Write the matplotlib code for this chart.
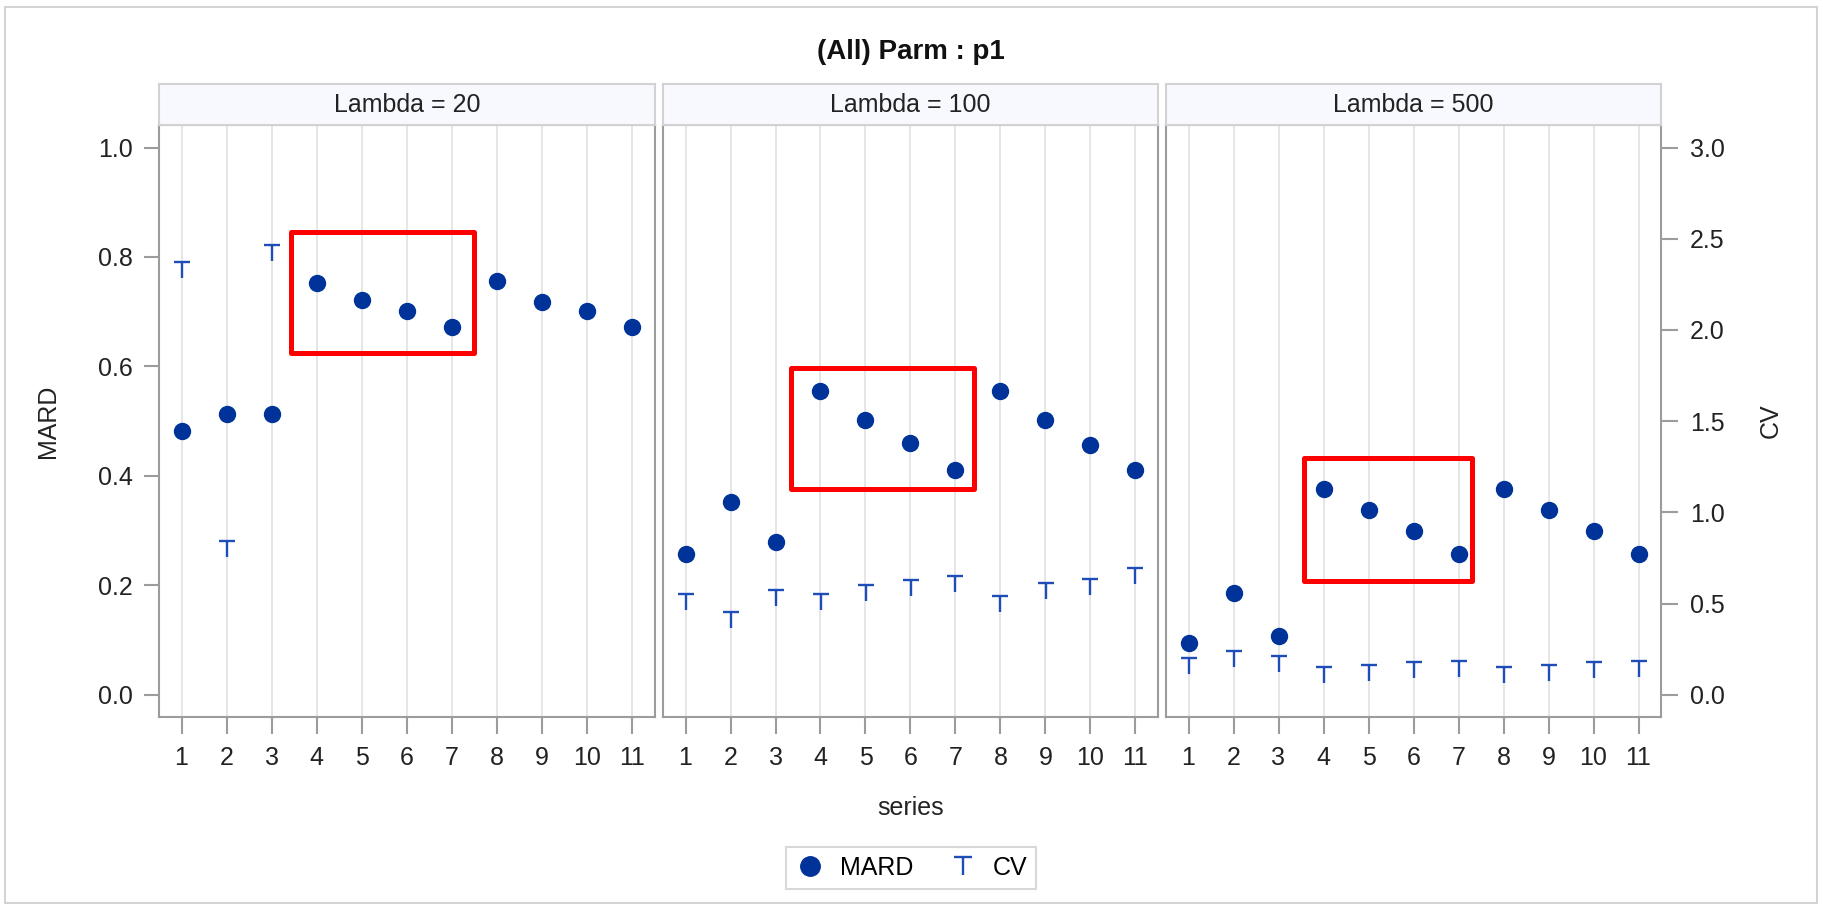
import numpy as np
import matplotlib
matplotlib.use("Agg")
import matplotlib.pyplot as plt
from matplotlib.path import Path
from matplotlib.patches import Rectangle
from matplotlib.lines import Line2D

plt.rcParams['font.family'] = ['Liberation Sans', 'DejaVu Sans']

# data
series = list(range(1, 12))
lambdas = [20, 100, 500]
mard_20 = [0.482, 0.514, 0.514, 0.752, 0.722, 0.701, 0.673, 0.756, 0.718, 0.701, 0.673]
mard_100 = [0.258, 0.353, 0.279, 0.556, 0.503, 0.461, 0.411, 0.556, 0.503, 0.456, 0.411]
mard_500 = [0.095, 0.187, 0.107, 0.376, 0.337, 0.299, 0.258, 0.376, 0.337, 0.299, 0.258]
cv_20 = [2.33, 0.80, 2.42, np.nan, np.nan, np.nan, np.nan, np.nan, np.nan, np.nan, np.nan]
cv_100 = [0.51, 0.41, 0.53, 0.51, 0.56, 0.585, 0.61, 0.50, 0.57, 0.59, 0.65]
cv_500 = [0.16, 0.195, 0.17, 0.11, 0.12, 0.135, 0.145, 0.11, 0.12, 0.135, 0.145]

# highlighted regions (x0, x1, y0, y1) in data units
boxes = [(3.43, 7.48, 0.624, 0.845),
         (3.34, 7.41, 0.376, 0.597),
         (3.56, 7.29, 0.208, 0.433)]

mard_all = [mard_20, mard_100, mard_500]
cv_all = [cv_20, cv_100, cv_500]

W, H = 1823, 910
fig = plt.figure(figsize=(W / 100, H / 100), dpi=100)

def fx(px):
    return px / W

def fy(py):
    return 1 - py / H

tack = Path([(-1, 1), (1, 1), (0, 1), (0, -1)],
            [Path.MOVETO, Path.LINETO, Path.MOVETO, Path.LINETO])

dot_c = '#003399'
cv_c = '#1F4DB8'
spine_c = '#9C9C9C'
grid_c = '#E4E4E4'
fs = 18

panel_x = [(159, 655), (663, 1158), (1166, 1661)]
top, bottom = 125, 717
ylo, yhi = -0.0402, 1.0411

for i, (x0, x1) in enumerate(panel_x):
    ax = fig.add_axes([fx(x0), fy(bottom), fx(x1 - x0), (bottom - top) / H])
    ax.set_xlim(0.5, 11.5)
    ax.set_ylim(ylo, yhi)
    ax.set_xticks(series)
    ax.set_xticklabels([str(s) for s in series])
    ax.grid(axis='x', color=grid_c, lw=1.3)
    ax.set_axisbelow(True)
    for sp in ax.spines.values():
        sp.set_color(spine_c)
        sp.set_linewidth(1.5)
    ax.tick_params(axis='x', length=12, width=1.5, color=spine_c, pad=9,
                   labelsize=fs, labelcolor='#222222')
    if i == 0:
        ax.set_yticks([0.0, 0.2, 0.4, 0.6, 0.8, 1.0])
        ax.set_yticklabels(['0.0', '0.2', '0.4', '0.6', '0.8', '1.0'])
        ax.tick_params(axis='y', length=11, width=1.5, color=spine_c, pad=8,
                       labelsize=fs, labelcolor='#222222')
    else:
        ax.set_yticks([])

    ax.plot(series, mard_all[i], 'o', color=dot_c, ms=11.5, mec=dot_c, zorder=3)

    bx0, bx1, by0, by1 = boxes[i]
    ax.add_patch(Rectangle((bx0, by0), bx1 - bx0, by1 - by0, fill=False,
                           ec='#FF0000', lw=3.6, joinstyle='round', zorder=4))

    ax2 = ax.twinx()
    ax2.set_ylim(ylo * 3, yhi * 3)
    ax2.plot(series, cv_all[i], ls='none', marker=tack, ms=12, mfc='none',
             mec=cv_c, mew=1.7, color=cv_c)
    for sp in ax2.spines.values():
        sp.set_visible(False)
    if i == 2:
        ax2.set_yticks([0.0, 0.5, 1.0, 1.5, 2.0, 2.5, 3.0])
        ax2.set_yticklabels(['0.0', '0.5', '1.0', '1.5', '2.0', '2.5', '3.0'])
        ax2.tick_params(axis='y', length=12, width=1.5, color=spine_c, pad=9,
                        labelsize=fs, labelcolor='#222222')
    else:
        ax2.set_yticks([])

    # panel header strip
    hx = fig.add_axes([fx(x0), fy(top), fx(x1 - x0), (top - 84) / H])
    hx.set_facecolor('#F8F9FE')
    hx.set_xticks([])
    hx.set_yticks([])
    for sp in hx.spines.values():
        sp.set_color('#D2D2D2')
        sp.set_linewidth(1.5)
    hx.text(0.5, 0.48, 'Lambda = %d' % lambdas[i], ha='center', va='center',
            fontsize=fs, color='#222222', transform=hx.transAxes)

fig.text(fx(911), fy(52), '(All) Parm : p1', ha='center', va='center',
         fontsize=20, fontweight='bold', color='#111111')
fig.text(fx(48), fy(421), 'MARD', ha='center', va='center', rotation=90,
         fontsize=fs, color='#222222')
fig.text(fx(1771), fy(421), 'CV', ha='center', va='center', rotation=90,
         fontsize=fs, color='#222222')
fig.text(fx(911), fy(808), 'series', ha='center', va='center',
         fontsize=fs, color='#222222')

handles = [Line2D([], [], ls='none', marker='o', color=dot_c, ms=14),
           Line2D([], [], ls='none', marker=tack, ms=13, mfc='none', mec=cv_c, mew=1.7)]
leg = fig.legend(handles, ['MARD', 'CV'], loc='center', bbox_to_anchor=(fx(911), fy(868)),
                 ncol=2, fontsize=fs, frameon=True, fancybox=False, edgecolor='#CFCFCF',
                 handletextpad=0.6, columnspacing=1.4, borderpad=0.35, handlelength=1.2)
leg.get_frame().set_linewidth(1.5)

fig.patches.append(Rectangle((fx(5), fy(903)), fx(1812), (903 - 7) / H, fill=False,
                             ec='#D4D4D4', lw=1.5, transform=fig.transFigure, figure=fig))

fig.savefig('out.png', dpi=100, facecolor='white')
